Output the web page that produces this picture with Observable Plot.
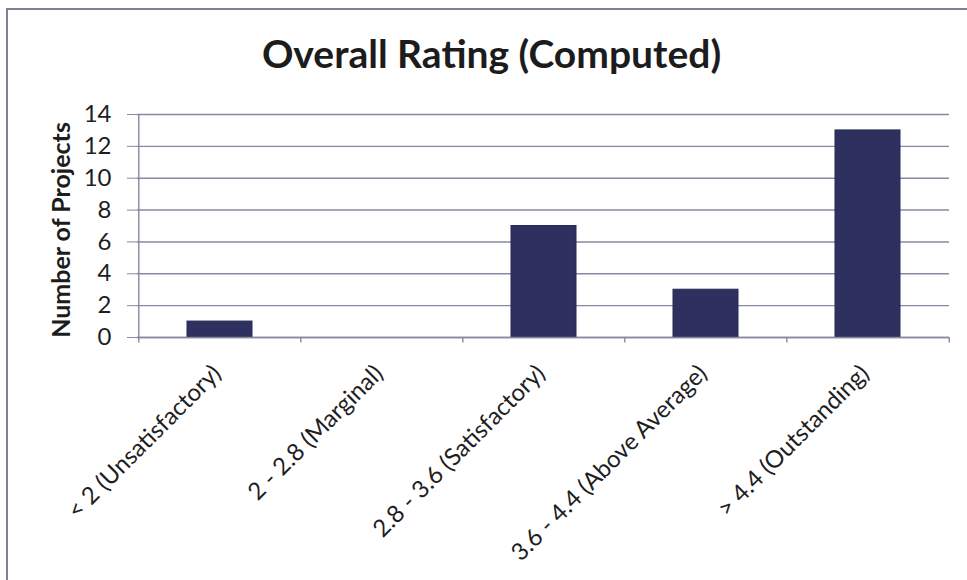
<!DOCTYPE html>
<html>
<head>
<meta charset="utf-8">
<script src="https://cdn.jsdelivr.net/npm/d3@7"></script>
<script src="https://cdn.jsdelivr.net/npm/@observablehq/plot@0.6"></script>
<style>
  html, body { margin: 0; padding: 0; background: #fff; }
  body { width: 967px; height: 580px; overflow: hidden; position: relative; font-family: Lato, "Open Sans", sans-serif; }
  #frame { position: absolute; left: 6px; top: 8px; width: 990px; height: 600px;
           border-left: 2px solid #7b8095; border-top: 2px solid #7b8095; }
  #title { position: absolute; left: 8px; top: 34px; width: 967px; text-align: center;
           font-size: 39px; line-height: 1; font-weight: 700; color: #1c1c1c; }
  #chart { position: absolute; left: 0; top: 90px; }
</style>
</head>
<body>
<div id="frame"></div>
<div id="title">Overall Rating (Computed)</div>
<div id="chart"></div>
<script>
// Rating bands and how many projects fell into each
const categories = [
  "< 2 (Unsatisfactory)",
  "2 - 2.8 (Marginal)",
  "2.8 - 3.6 (Satisfactory)",
  "3.6 - 4.4 (Above Average)",
  "> 4.4 (Outstanding)"
];
const projects = [1, 0, 7, 3, 13];
const yTicks = [0, 2, 4, 6, 8, 10, 12, 14];
const yTitle = "Number of Projects";

const data = categories.map((c, i) => ({rating: c, count: projects[i]}));

const W = 967, H = 490, ML = 137, MR = 18, MT = 24, MB = 243;
const step = (W - ML - MR) / categories.length;
const lineColor = "#868aa0";

const chart = Plot.plot({
  width: W,
  height: H,
  marginLeft: ML,
  marginRight: MR,
  marginTop: MT,
  marginBottom: MB,
  style: {fontFamily: "Lato, 'Open Sans', sans-serif", color: "#1e1e1e", background: "transparent", overflow: "visible"},
  x: {domain: categories, paddingInner: 0.6, paddingOuter: 0.3},
  y: {domain: [0, 14], ticks: yTicks},
  marks: [
    Plot.gridY(yTicks, {stroke: lineColor, strokeOpacity: 1, strokeWidth: 1.4}),
    // category separators below the baseline
    Plot.ruleX(categories, {x: d => d, dx: -step / 2, y1: 0, y2: -0.35, stroke: lineColor, strokeWidth: 1.4}),
    Plot.ruleX(categories.slice(-1), {x: d => d, dx: step / 2, y1: 0, y2: -0.35, stroke: lineColor, strokeWidth: 1.4}),
    Plot.barY(data, {x: "rating", y: "count", fill: "#2e3160", stroke: "#272a52", strokeWidth: 1}),
    Plot.ruleY([0], {stroke: lineColor, strokeWidth: 1.4}),
    // vertical axis line
    Plot.ruleX(categories.slice(0, 1), {x: d => d, dx: -step / 2, y1: 0, y2: 14, stroke: lineColor, strokeWidth: 1.4}),
    Plot.axisY(yTicks, {tickSize: 10, tickPadding: 16, fontSize: 24, stroke: lineColor, label: null, fill: "#1e1e1e"}),
    Plot.axisX({tickRotate: -45, tickSize: 0, tickPadding: 32, dx: -3, fontSize: 24, label: null, fill: "#1e1e1e"}),
    Plot.text([yTitle], {frameAnchor: "left", textAnchor: "middle", rotate: -90, dx: -76, dy: 4, fontSize: 25, fontWeight: "bold", fill: "#1c1c1c"})
  ]
});
document.getElementById("chart").appendChild(chart);
</script>
</body>
</html>
